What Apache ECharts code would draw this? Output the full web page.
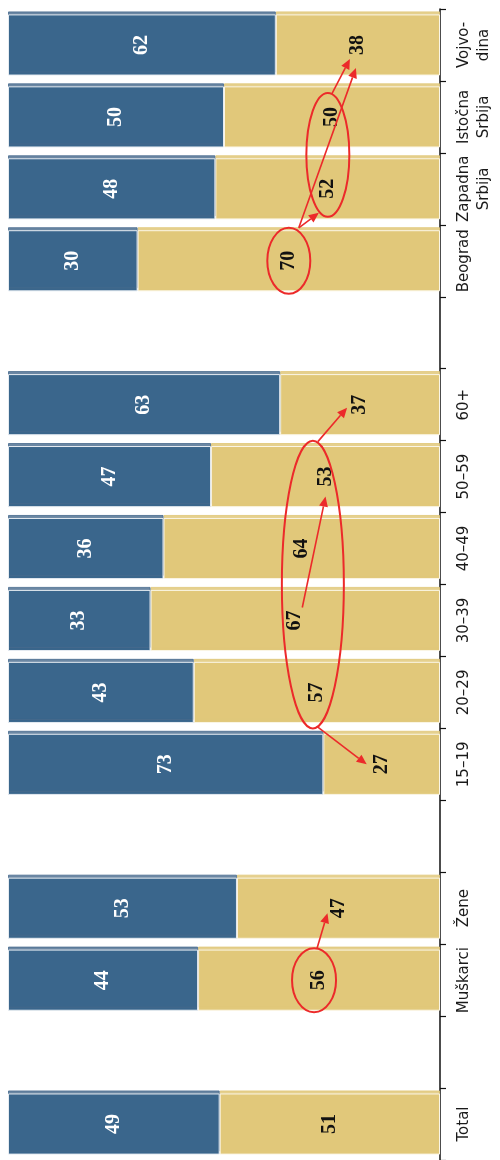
<!DOCTYPE html>
<html>
<head>
<meta charset="utf-8">
<script src="https://cdn.jsdelivr.net/npm/echarts@6/dist/echarts.min.js"></script>
<style>
  html, body { margin: 0; padding: 0; background: #fff; }
  #chart { width: 500px; height: 1160px; }
</style>
</head>
<body>
<div id="chart"></div>
<script>
// Categories from bottom to top; whitespace entries are spacer bands between groups
const categories = ['Total', ' ', 'Muškarci', 'Žene', '  ', '15–19', '20–29', '30–39', '40–49', '50–59', '60+', '   ', 'Beograd', 'Zapadna\nSrbija', 'Istočna\nSrbija', 'Vojvo-\ndina'];
const blueShare   = [49, null, 44, 53, null, 73, 43, 33, 36, 47, 63, null, 30, 48, 50, 62];
const yellowShare = [51, null, 56, 47, null, 27, 57, 67, 64, 53, 37, null, 70, 52, 50, 38];

const BLUE = '#3a668c';
const YELLOW = '#e1c87a';
const RED = '#ec2a2a';

const chart = echarts.init(document.getElementById('chart'), null, { renderer: 'canvas' });

const valueLabel = (color) => ({
  show: true,
  position: 'inside',
  rotate: 90,
  color: color,
  fontFamily: 'Liberation Serif',
  fontWeight: 'bold',
  fontSize: 20,
  formatter: (p) => p.value == null ? '' : String(p.value)
});

chart.setOption({
  animation: false,
  grid: { left: 8, right: 60, top: 9, bottom: -4 },
  xAxis: {
    type: 'value', min: 0, max: 100, inverse: true, show: false
  },
  yAxis: {
    type: 'category',
    position: 'right',
    data: categories,
    axisLine: { show: true, lineStyle: { color: '#111', width: 1.5 } },
    axisTick: { show: true, inside: false, interval: 0, length: 6, lineStyle: { color: '#111', width: 1.2 } },
    axisLabel: {
      interval: 0,
      rotate: 90,
      margin: 14,
      color: '#1a1a1a',
      fontFamily: 'DejaVu Sans',
      fontSize: 15,
      lineHeight: 20
    },
    splitLine: { show: false }
  },
  series: [
    {
      name: 'yellow',
      type: 'bar',
      stack: 'share',
      data: yellowShare,
      barCategoryGap: '15%',
      itemStyle: {
        color: YELLOW, borderColor: '#fbf6e6', borderWidth: 1,
        shadowColor: 'rgba(225,200,122,0.85)', shadowOffsetY: -3, shadowBlur: 0
      },
      label: valueLabel('#111')
    },
    {
      name: 'blue',
      type: 'bar',
      stack: 'share',
      data: blueShare,
      barCategoryGap: '15%',
      itemStyle: {
        color: BLUE, borderColor: '#e6ecf2', borderWidth: 1,
        shadowColor: 'rgba(70,105,140,0.8)', shadowOffsetY: -3, shadowBlur: 0
      },
      label: valueLabel('#fff')
    }
  ]
});

// Pixel centre of the yellow segment label for a category
function lab(cat) {
  const i = categories.indexOf(cat);
  const p = chart.convertToPixel({ xAxisIndex: 0, yAxisIndex: 0 }, [yellowShare[i] / 2, i]);
  return { x: p[0], y: p[1] };
}

function ellipse(cx, cy, rx, ry) {
  return {
    type: 'ellipse', silent: true, z: 100,
    shape: { cx: cx, cy: cy, rx: rx, ry: ry },
    style: { fill: null, stroke: RED, lineWidth: 2 }
  };
}

function arrow(x1, y1, x2, y2) {
  const a = Math.atan2(y2 - y1, x2 - x1);
  const L = 10, W = 4.5;
  const bx = x2 - L * Math.cos(a), by = y2 - L * Math.sin(a);
  return [
    {
      type: 'line', silent: true, z: 100,
      shape: { x1: x1, y1: y1, x2: bx, y2: by },
      style: { stroke: RED, lineWidth: 1.6 }
    },
    {
      type: 'polygon', silent: true, z: 100,
      shape: { points: [[x2, y2], [bx + W * Math.sin(a), by - W * Math.cos(a)], [bx - W * Math.sin(a), by + W * Math.cos(a)]] },
      style: { fill: RED }
    }
  ];
}

const band = chart.getModel().getComponent('yAxis').axis.getBandWidth();
const els = [];

// Gender: 56 → 47
const m = lab('Muškarci'), z = lab('Žene');
els.push(ellipse(m.x - 5, m.y, 22, 32));
els.push(...arrow(m.x - 2, m.y - 32, z.x - 11, z.y + 5));

// Age groups 20–59 grouped, arrows out to 15–19 and 60+
const ages = ['20–29', '30–39', '40–49', '50–59'].map(lab);
const ax = ages.reduce((s, p) => s + p.x, 0) / ages.length + 3;
const ayTop = ages[3].y - band / 2;
const ayBot = ages[0].y + band / 2;
const ay = (ayTop + ayBot) / 2, ary = (ayBot - ayTop) / 2;
els.push(ellipse(ax, ay, 31, ary));
const a60 = lab('60+'), a15 = lab('15–19');
els.push(...arrow(ax + 5, ayTop + 1, a60.x - 13, a60.y + 3));
els.push(...arrow(ages[1].x + 7, ages[1].y - 13, ages[3].x, ages[3].y + 20));
els.push(...arrow(ax + 4, ayBot - 2, a15.x - 15, a15.y));

// Regions: Beograd → west/east Serbia → Vojvodina
const bg = lab('Beograd'), zs = lab('Zapadna\nSrbija'), is = lab('Istočna\nSrbija'), vo = lab('Vojvo-\ndina');
els.push(ellipse(bg.x, bg.y, 21.5, 33));
const rcx = (zs.x + is.x) / 2 - 2, rcy = (zs.y + is.y) / 2 + 2, rry = (zs.y - is.y) / 2 + 26;
els.push(ellipse(rcx, rcy, 21.5, rry));
els.push(...arrow(bg.x + 10, bg.y - 33, rcx - 9, rcy + rry - 4));
els.push(...arrow(bg.x + 10, bg.y - 33, vo.x - 2, vo.y + 23));
els.push(...arrow(rcx + 4, rcy - rry + 1, vo.x - 8, vo.y + 14));

chart.setOption({ graphic: { elements: els } });
</script>
</body>
</html>
